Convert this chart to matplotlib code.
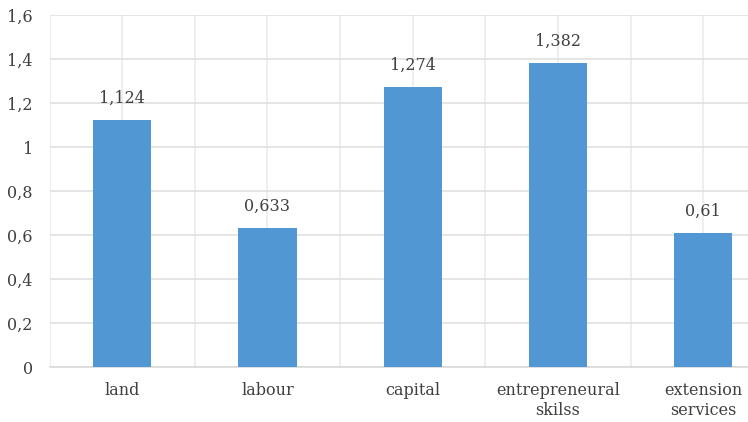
import matplotlib
matplotlib.use("Agg")
import matplotlib.pyplot as plt
import numpy as np

categories = ["land", "labour", "capital", "entrepreneural\nskilss", "extension\nservices"]
values = [1.124, 0.633, 1.274, 1.382, 0.61]
value_labels = ["1,124", "0,633", "1,274", "1,382", "0,61"]
yticks = [0, 0.2, 0.4, 0.6, 0.8, 1.0, 1.2, 1.4, 1.6]
ytick_labels = ["0", "0,2", "0,4", "0,6", "0,8", "1", "1,2", "1,4", "1,6"]

plt.rcParams['font.family'] = ['DejaVu Serif']
fig = plt.figure(figsize=(7.48, 4.22), dpi=100)
ax = fig.add_axes([49.5/748, 55/422, (776-49.5)/748, (407-55)/422])

x = np.arange(len(categories))
ax.bar(x, values, width=0.4, color="#5097D3", zorder=3)
for xi, v, lab in zip(x, values, value_labels):
    ax.text(xi, v + 0.058, lab, ha="center", va="bottom", fontsize=11.5, color="#404040")

ax.set_xlim(-0.5, len(categories) - 0.5)
ax.set_ylim(0, 1.6)
ax.set_yticks(yticks)
ax.set_yticklabels(ytick_labels, fontsize=11.5, color="#404040")
ax.set_xticks(x)
ax.set_xticklabels(categories, fontsize=11.5, color="#404040", linespacing=1.2)
ax.set_xticks(np.arange(-0.5, len(categories), 1.0), minor=True)
ax.tick_params(axis="both", which="both", length=0)
ax.tick_params(axis="x", pad=11)
ax.tick_params(axis="y", pad=12)

ax.grid(True, axis="y", color="#E0E0E0", linewidth=1.2, zorder=0)
ax.grid(True, axis="x", which="both", color="#EBEBEB", linewidth=1.2, zorder=0)
for s in ["top", "right", "left"]:
    ax.spines[s].set_visible(False)
ax.spines["bottom"].set_color("#D9D9D9")
ax.spines["bottom"].set_linewidth(1.2)

fig.savefig("out.png", dpi=100)
